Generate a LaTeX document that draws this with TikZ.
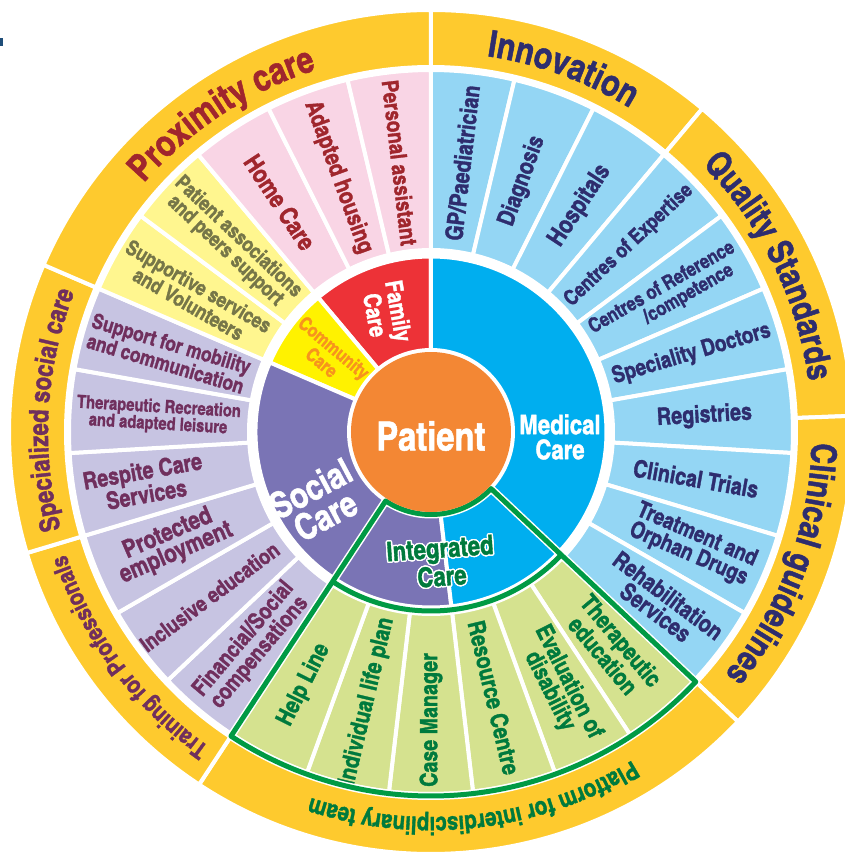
\documentclass[tikz,border=0pt]{standalone}
\usepackage{fontspec}
\usepackage[copies]{contour}
\usetikzlibrary{decorations.text}
\newfontfamily\cnb[FakeBold=1.3]{texgyreheroscn-bold.otf}
\definecolor{ringyel}{HTML}{FECA2E}
\definecolor{lpink}{HTML}{F9D5E5}
\definecolor{lyel}{HTML}{FFF68F}
\definecolor{lav}{HTML}{C7C4E2}
\definecolor{lblue}{HTML}{94D6F4}
\definecolor{lgreen}{HTML}{D5E28F}
\definecolor{medblue}{HTML}{00AEEF}
\definecolor{socpurp}{HTML}{7A74B5}
\definecolor{famred}{HTML}{ED3237}
\definecolor{comyel}{HTML}{FFF200}
\definecolor{comorange}{HTML}{F7941D}
\definecolor{patorange}{HTML}{F38734}
\definecolor{gline}{HTML}{009A44}
\definecolor{dgreen}{HTML}{007A3D}
\definecolor{navy}{HTML}{2E2D6E}
\definecolor{dred}{HTML}{A0262D}
\definecolor{purp}{HTML}{702F5D}
\definecolor{olive}{HTML}{767648}
\definecolor{markblue}{HTML}{1F4E79}
\contourlength{1.4pt}
\tikzset{
  sectxt/.style={align=center, inner sep=0pt},
  wedge/.style={draw=white, line width=4pt, line join=miter},
}
\newcommand\fProx{\cnb\fontsize{37pt}{39pt}\selectfont\color{dred}}
\newcommand\fInno{\cnb\fontsize{37pt}{39pt}\selectfont\color{navy}}
\newcommand\fQual{\cnb\fontsize{35pt}{37pt}\selectfont\color{navy}}
\newcommand\fPlat{\cnb\fontsize{25pt}{27pt}\selectfont\color{dgreen}}
\newcommand\fTrain{\cnb\fontsize{24pt}{26pt}\selectfont\color{purp}}
\newcommand\fSpec{\cnb\fontsize{27pt}{29pt}\selectfont\color{purp}}
% annular wedge: start, end, inner r, outer r, fill
\newcommand\ann[5]{\fill[#5, wedge] (#1:#4pt) arc[start angle=#1, end angle=#2, radius=#4pt] -- (#2:#3pt) arc[start angle=#2, end angle=#1, radius=#3pt] -- cycle;}
% outer sector: idx, fill, text colour, radius, font size, baselineskip, text
\newcommand\seg[7]{%
  \pgfmathsetmacro\aA{90-13.333333*#1}%
  \pgfmathsetmacro\aB{90-13.333333*(#1+1)}%
  \pgfmathsetmacro\aC{90-13.333333*(#1+0.5)}%
  \pgfmathsetmacro\segRot{(\aC>-85)?\aC:(\aC+180)}%
  \fill[#2, wedge] (\aA:362pt) arc[start angle=\aA, end angle=\aB, radius=362pt] -- (\aB:182pt) arc[start angle=\aB, end angle=\aA, radius=182pt] -- cycle;
  \node[sectxt, text=#3, rotate=\segRot, font=\cnb\fontsize{#5pt}{#6pt}\selectfont] (s#1) at (\aC:#4pt) {#7};
}
\begin{document}
\begin{tikzpicture}[x=1pt,y=1pt]
\useasboundingbox (-431,-423) rectangle (414,432);
\fill[white] (-431,-423) rectangle (414,432);
\clip (-431,-423) rectangle (414,432);
\fill[markblue] (-431,394) rectangle (-428,386);

% outer yellow ring
\ann{90}{50}{365}{422}{ringyel}
\ann{50}{2.2}{365}{422}{ringyel}
\ann{2.2}{-43.333}{365}{422}{ringyel}
\ann{-43.333}{-123.333}{365}{422}{ringyel}
\ann{-123.333}{-163.333}{365}{422}{ringyel}
\ann{-163.333}{-203.333}{365}{422}{ringyel}
\ann{-203.333}{-270}{365}{422}{ringyel}

\path[decorate, decoration={text along path, text={|\fProx|Proximity care}, text align=center}] (156.667:380pt) arc[start angle=156.667, end angle=90, radius=380pt];
\path[decorate, decoration={text along path, text={|\fInno|Innovation}, text align=center}] (90:380pt) arc[start angle=90, end angle=50, radius=380pt];
\path[decorate, decoration={text along path, text={|\fQual|Quality Standards}, text align=center}] (50:381pt) arc[start angle=50, end angle=2.2, radius=381pt];
\path[decorate, decoration={text along path, text={|\fQual|Clinical guidelines}, text align=center}] (2.2:381pt) arc[start angle=2.2, end angle=-43.333, radius=381pt];
\path[decorate, decoration={text along path, text={|\fPlat|Platform for interdisciplinary team}, text align=center}] (-43.333:385pt) arc[start angle=-43.333, end angle=-123.333, radius=385pt];
\path[decorate, decoration={text along path, text={|\fTrain|Training for Professionals}, text align=center}] (-123.333:385pt) arc[start angle=-123.333, end angle=-163.333, radius=385pt];
\path[decorate, decoration={text along path, text={|\fSpec|Specialized social care}, text align=center}] (-163.333:383pt) arc[start angle=-163.333, end angle=-203.333, radius=383pt];

% outer sectors
\seg{0}{lblue}{navy}{271}{24}{22}{GP/Paediatrician}
\seg{1}{lblue}{navy}{267}{24}{22}{Diagnosis}
\seg{2}{lblue}{navy}{271}{25}{22}{Hospitals}
\seg{3}{lblue}{navy}{272}{21}{20}{Centres of Expertise}
\seg{4}{lblue}{navy}{272}{20}{19}{Centres of Reference\\\hspace*{2em}/competence}
\seg{5}{lblue}{navy}{272}{23}{21}{Speciality Doctors}
\seg{6}{lblue}{navy}{274}{24}{22}{Registries}
\seg{7}{lblue}{navy}{269}{24}{22}{Clinical Trials}
\seg{8}{lblue}{navy}{285}{23}{21}{Treatment and\\Orphan Drugs}
\seg{9}{lblue}{navy}{288}{24}{21}{Rehabilitation\\Services}
\seg{10}{lgreen}{dgreen}{282}{24}{21}{Therapeutic\\education}
\seg{11}{lgreen}{dgreen}{285}{24}{21}{Evaluation of\\disability}
\seg{12}{lgreen}{dgreen}{273}{24}{22}{Resource Centre}
\seg{13}{lgreen}{dgreen}{288}{24}{22}{Case Manager}
\seg{14}{lgreen}{dgreen}{277}{24}{22}{Individual life plan}
\seg{15}{lgreen}{dgreen}{283}{24}{22}{Help Line}
\seg{16}{lav}{purp}{279}{23}{21}{Financial/Social\\compensations}
\seg{17}{lav}{purp}{276}{22}{21}{Inclusive education}
\seg{18}{lav}{purp}{282}{25}{21}{Protected\\employment}
\seg{19}{lav}{purp}{291}{24}{21}{Respite Care\\Services}
\seg{20}{lav}{purp}{273}{18}{17}{Therapeutic Recreation\\and adapted leisure}
\seg{21}{lav}{purp}{274}{21}{19}{Support for mobility\\and communication}
\seg{22}{lyel}{olive}{274}{21}{19}{Supportive services\\and Volunteers}
\seg{23}{lyel}{olive}{274}{21}{19}{Patient associations\\and peers support}
\seg{24}{lpink}{dred}{275}{25}{22}{Home Care}
\seg{25}{lpink}{dred}{271}{24}{22}{Adapted housing}
\seg{26}{lpink}{dred}{271}{23}{22}{Personal assistant}

% inner ring
\ann{90}{130}{82}{175.5}{famred}
\ann{130}{156.667}{82}{175.5}{comyel}
\ann{156.667}{276.667}{82}{175.5}{socpurp}
\ann{-83.333}{90}{82}{175.5}{medblue}

% integrated care outline
\draw[white, line width=8pt, line join=round] (-43.333:82.5pt) -- (-43.333:364pt) arc[start angle=-43.333, end angle=-123.333, radius=364pt] -- (-123.333:82.5pt) arc[start angle=-123.333, end angle=-43.333, radius=82.5pt] -- cycle;
\draw[white, line width=8pt] (-43.333:179pt) arc[start angle=-43.333, end angle=-123.333, radius=179pt];
\draw[gline, line width=5pt, line join=round] (-43.333:82.5pt) -- (-43.333:364pt) arc[start angle=-43.333, end angle=-123.333, radius=364pt] -- (-123.333:82.5pt) arc[start angle=-123.333, end angle=-43.333, radius=82.5pt] -- cycle;
\draw[gline, line width=5pt] (-43.333:179pt) arc[start angle=-43.333, end angle=-123.333, radius=179pt];

% centre
\node[circle, fill=patorange, minimum size=160pt, inner sep=0pt] (patientdisk) at (0,0) {};
\node[sectxt, text=white, font=\cnb\fontsize{40pt}{40pt}\selectfont] (patient) at (0,-4) {Patient};
\node[sectxt, text=white, font=\cnb\fontsize{27pt}{25pt}\selectfont] (medical) at (129,-5) {Medical\\Care};
\node[sectxt, text=white, rotate=28, font=\cnb\fontsize{36pt}{31pt}\selectfont] (social) at (-113,-70) {Social\\Care};
\node[sectxt, text=white, rotate=-80, font=\cnb\fontsize{24pt}{22pt}\selectfont] (family) at (-44,119) {Family\\Care};
\node[sectxt, text=comorange, rotate=-40, font=\cnb\fontsize{19pt}{18pt}\selectfont] (community) at (-103,77) {Community\\Care};
\node[sectxt, text=dgreen, rotate=4, font=\cnb\fontsize{27pt}{26pt}\selectfont] (integrated) at (10,-131) {\contour{white}{Integrated}\\\contour{white}{Care}};
\end{tikzpicture}
\end{document}
